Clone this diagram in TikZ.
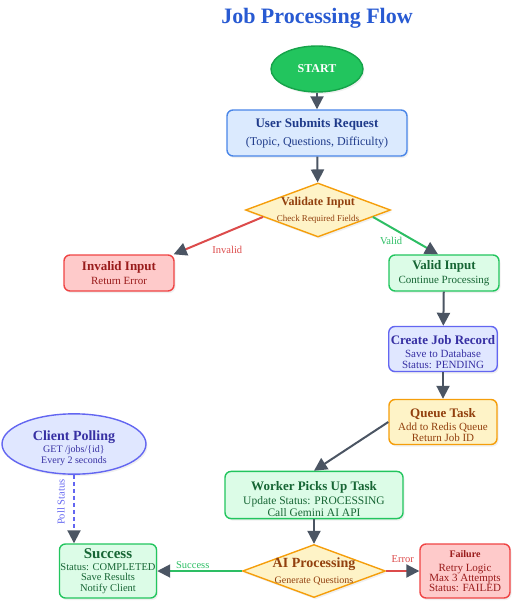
\documentclass[tikz,border=0pt]{standalone}
\usepackage{fontspec}
\setmainfont{Liberation Serif}
\usetikzlibrary{shapes.geometric,arrows.meta,calc,shadows}
\definecolor{titleblue}{RGB}{40,90,210}
\definecolor{arrowc}{HTML}{4B5563}
\definecolor{gfillS}{HTML}{22C55E}
\definecolor{gdrawS}{HTML}{16A34A}
\definecolor{bfill}{HTML}{DBEAFE}
\definecolor{bdraw}{HTML}{4A86E8}
\definecolor{btext}{HTML}{1E3A8A}
\definecolor{yfill}{HTML}{FEF3C7}
\definecolor{ydraw}{HTML}{F59E0B}
\definecolor{ytext}{HTML}{92400E}
\definecolor{rfill}{HTML}{FECACA}
\definecolor{rdraw}{HTML}{EF4444}
\definecolor{rtext}{HTML}{991B1B}
\definecolor{gfill}{HTML}{DCFCE7}
\definecolor{gdraw}{HTML}{22C55E}
\definecolor{gtext}{HTML}{166534}
\definecolor{ifill}{HTML}{E0E7FF}
\definecolor{idraw}{HTML}{6366F1}
\definecolor{itext}{HTML}{3730A3}
\definecolor{redline}{HTML}{DC4B4B}
\definecolor{greenline}{HTML}{2DBE64}
\newcommand{\fs}[1]{\fontsize{#1}{#1}\selectfont}
\newcommand{\up}[1]{\rule{0pt}{#1}}
\begin{document}
\begin{tikzpicture}[x=1pt,y=-1pt,
  shd/.style={drop shadow={opacity=0.12,shadow xshift=1.5pt,shadow yshift=-2pt}},
  boxbase/.style={rectangle,rounded corners=6pt,line width=1.4pt,align=center,inner sep=2pt,shd},
  bluebox/.style={boxbase,fill=bfill,draw=bdraw,text=btext},
  yellowbox/.style={boxbase,fill=yfill,draw=ydraw,text=ytext},
  redbox/.style={boxbase,fill=rfill,draw=rdraw,text=rtext},
  greenbox/.style={boxbase,fill=gfill,draw=gdraw,text=gtext},
  indigobox/.style={boxbase,fill=ifill,draw=idraw,text=itext},
  decision/.style={diamond,fill=yfill,draw=ydraw,line width=1.4pt,inner sep=0pt,shd},
  dtext/.style={align=center,text=ytext,inner sep=0pt},
  arr/.style={line width=2pt,draw=arrowc,-{Triangle[length=13pt,width=13pt,color=arrowc]}},
  lbl/.style={font=\fs{10.5}}
]
\useasboundingbox (0,0) rectangle (530,607);
\node[text=titleblue,font=\bfseries\fs{22}] (title) at (317,18) {Job Processing Flow};

\node[ellipse,fill=gfillS,draw=gdrawS,line width=1.4pt,minimum width=92pt,minimum height=46pt,text=white,font=\bfseries\fs{12},shd] (start) at (317,69) {START};

\node[bluebox,minimum width=180pt,minimum height=46pt] (user) at (317,133)
  {{\bfseries\fs{13}User Submits Request}\\[6pt]{\fs{12}(Topic, Questions, Difficulty)}};

\node[decision,minimum width=145pt,minimum height=54pt] (val) at (318,210) {};
\node[dtext] (valtxt) at (val.center) {{\bfseries\fs{12}Validate Input}\\[4pt]{\fs{9}Check Required Fields}};

\node[redbox,minimum width=110pt,minimum height=36pt] (inv) at (119,273)
  {{\bfseries\fs{13}Invalid Input}\\[2pt]{\fs{11}Return Error}};

\node[greenbox,minimum width=110pt,minimum height=36pt] (valid) at (444,273)
  {{\bfseries\fs{13}Valid Input}\\[2pt]{\fs{11}Continue Processing}};

\node[indigobox,minimum width=108pt,minimum height=45pt] (job) at (443,349)
  {{\up{16pt}\bfseries\fs{13}Create Job Record}\\[1pt]{\fs{11}Save to Database}\\[-1pt]{\fs{11}Status: PENDING}};

\node[yellowbox,minimum width=108pt,minimum height=45pt] (queue) at (443,422)
  {{\up{16pt}\bfseries\fs{13}Queue Task}\\[1pt]{\fs{11}Add to Redis Queue}\\[-1pt]{\fs{11}Return Job ID}};

\node[ellipse,fill=ifill,draw=idraw,line width=1.4pt,minimum width=144pt,minimum height=52pt,text=itext,align=center,inner sep=0pt,shd] (poll) at (74,444)
  {{\up{18pt}\bfseries\fs{14}Client Polling}\\[0pt]{\fs{10}GET /jobs/\{id\}}\\[-1.5pt]{\fs{10}Every 2 seconds}};

\node[greenbox,minimum width=178pt,minimum height=46pt] (worker) at (314,495)
  {{\up{17pt}\bfseries\fs{13}Worker Picks Up Task}\\[2pt]{\fs{11.5}Update Status: PROCESSING}\\[0pt]{\fs{11.5}Call Gemini AI API}};

\node[decision,minimum width=143pt,minimum height=53pt] (ai) at (314,571) {};
\node[dtext] (aitxt) at (ai.center) {{\bfseries\fs{14}AI Processing}\\[4pt]{\fs{10}Generate Questions}};

\node[greenbox,minimum width=90pt,minimum height=54pt,inner sep=1pt] (succ) at (108,571)
  {{\bfseries\fs{15}Success}\\[0pt]{\fs{10.5}Status: COMPLETED}\\[-1.5pt]{\fs{10.5}Save Results}\\[-1.5pt]{\fs{10.5}Notify Client}};

\node[redbox,minimum width=90pt,minimum height=54pt] (fail) at (465,571)
  {{\bfseries\fs{10}Failure}\\[2pt]{\fs{11}Retry Logic}\\[-2pt]{\fs{11}Max 3 Attempts}\\[-2pt]{\fs{11}Status: FAILED}};

% connectors
\draw[arr] (start) -- (user);
\draw[arr] (user) -- (val);
\draw[arr,draw=redline] ($(val.west)!0.25!(val.south)$) -- ($(inv.north east)+(-1,0)$)
  node[pos=0.4,below=10pt,lbl,text=redline] (linv) {Invalid};
\draw[arr,draw=greenline] ($(val.east)!0.25!(val.south)$) -- ($(valid.north)+(-6,0)$)
  node[pos=0.28,below=5pt,lbl,text=greenline] (lvalid) {Valid};
\draw[arr] (valid) -- (job);
\draw[arr] (job) -- (queue);
\draw[arr] (queue.west) -- (worker.north);
\draw[arr] (worker) -- (ai);
\draw[arr,draw=greenline] (ai.west) -- (succ.east)
  node[pos=0.58,above=-1.5pt,lbl,text=greenline] (lsucc) {Success};
\draw[arr,draw=redline] (ai.east) -- (fail.west)
  node[pos=0.5,above=4pt,lbl,text=redline] (lerr) {Error};
\draw[arr,draw=idraw,dash pattern=on 4pt off 3pt] (poll.south) -- (succ.north -| poll.south)
  node[pos=0.4,rotate=90,anchor=south,yshift=5pt,lbl,text=idraw] (lpoll) {Poll Status};
\end{tikzpicture}
\end{document}
